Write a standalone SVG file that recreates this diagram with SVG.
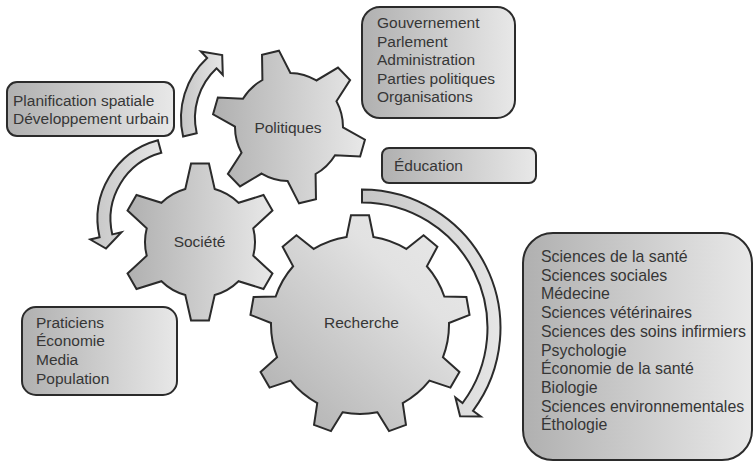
<svg xmlns="http://www.w3.org/2000/svg" width="754" height="467" viewBox="0 0 754 467">
<defs>
<linearGradient id="gH" x1="0" y1="0" x2="1" y2="0">
<stop offset="0" stop-color="#b0b0b0"/>
<stop offset="1" stop-color="#e8e8e8"/>
</linearGradient>
<linearGradient id="gD" x1="0" y1="1" x2="1" y2="0">
<stop offset="0" stop-color="#ababab"/>
<stop offset="0.7" stop-color="#e2e2e2"/>
<stop offset="1" stop-color="#e9e9e9"/>
</linearGradient>
<linearGradient id="gA" x1="0" y1="0" x2="1" y2="0">
<stop offset="0" stop-color="#c6c6c6"/>
<stop offset="1" stop-color="#e6e6e6"/>
</linearGradient>
</defs>
<style>
.box{fill:url(#gH);stroke:#2b2b2b;stroke-width:2}
.gear{fill:url(#gH);stroke:#2b2b2b;stroke-width:2;stroke-linejoin:miter}
.arr{fill:url(#gA);stroke:#2b2b2b;stroke-width:2;stroke-linejoin:miter}
text{font-family:"Liberation Sans",Arial,sans-serif;font-size:15.5px;fill:#363636}
.c{text-anchor:middle}
.s{font-size:15.9px}
</style>
<rect width="754" height="467" fill="#ffffff"/>

<g id="connectors">
<path class="arr" d="M 183.1,136.5 A 82 82 0 0 1 207.1,58.0 L 200.9,51.4 L 222.2,55.1 L 222.8,74.8 L 216.6,68.3 A 68 68 0 0 0 196.7,133.3 Z"/>
<path class="arr" d="M 157.9,140.3 A 81.5 81.5 0 0 0 99.6,237.3 L 90.3,239.5 L 106,248.5 L 121.5,232.3 L 112.3,234.4 A 68.5 68.5 0 0 1 161.3,152.8 Z"/>
<path class="arr" d="M 362,189.5 A 138.5 138.5 0 0 1 473.0,410.8 L 480.7,416.4 L 460.1,416.3 L 455.4,397.6 L 462.6,403.0 A 125.5 125.5 0 0 0 362,202.5 Z"/>
</g>

<g id="politiques">
<path class="gear" d="M 262.41,80.00 L 262.03,54.87 L 278.95,50.66 L 290.41,73.02 A 54 54 0 0 1 316.41,80.47 L 337.98,67.59 L 350.09,80.12 L 336.46,101.23 A 54 54 0 0 1 343.00,127.47 L 364.94,139.71 L 360.14,156.47 L 335.04,155.22 A 54 54 0 0 1 315.59,174.00 L 315.97,199.13 L 299.05,203.34 L 287.59,180.98 A 54 54 0 0 1 261.59,173.53 L 240.02,186.41 L 227.91,173.88 L 241.54,152.77 A 54 54 0 0 1 235.00,126.53 L 213.06,114.29 L 217.86,97.53 L 242.96,98.78 A 54 54 0 0 1 262.41,80.00 Z"/>
<text class="c" x="288" y="133">Politiques</text>
</g>

<g id="societe">
<path class="gear" d="M 185.30,189.00 L 191.06,163.51 L 208.94,163.51 L 214.70,189.00 A 55 55 0 0 1 238.55,202.77 L 263.51,195.01 L 272.45,210.50 L 253.25,228.23 A 55 55 0 0 1 253.25,255.77 L 272.45,273.50 L 263.51,288.99 L 238.55,281.23 A 55 55 0 0 1 214.70,295.00 L 208.94,320.49 L 191.06,320.49 L 185.30,295.00 A 55 55 0 0 1 161.45,281.23 L 136.49,288.99 L 127.55,273.50 L 146.75,255.77 A 55 55 0 0 1 146.75,228.23 L 127.55,210.50 L 136.49,195.01 L 161.45,202.77 A 55 55 0 0 1 185.30,189.00 Z"/>
<text class="c" x="199.5" y="247">Société</text>
</g>

<g id="recherche">
<path class="gear" style="fill:url(#gD)" d="M 346.54,237.02 L 350.99,215.37 L 369.01,215.37 L 373.46,237.02 A 89 89 0 0 1 406.24,248.95 L 423.57,235.23 L 437.37,246.81 L 426.87,266.26 A 89 89 0 0 1 444.30,296.47 L 466.40,297.08 L 469.53,314.84 L 448.97,322.98 A 89 89 0 0 1 442.92,357.33 L 459.45,372.01 L 450.43,387.62 L 429.46,380.64 A 89 89 0 0 1 402.74,403.06 L 405.97,424.94 L 389.03,431.11 L 377.44,412.27 A 89 89 0 0 1 342.56,412.27 L 330.97,431.11 L 314.03,424.94 L 317.26,403.06 A 89 89 0 0 1 290.54,380.64 L 269.57,387.62 L 260.55,372.01 L 277.08,357.33 A 89 89 0 0 1 271.03,322.98 L 250.47,314.84 L 253.60,297.08 L 275.70,296.47 A 89 89 0 0 1 293.13,266.26 L 282.63,246.81 L 296.43,235.23 L 313.76,248.95 A 89 89 0 0 1 346.54,237.02 Z"/>
<text class="c" x="361.5" y="328">Recherche</text>
</g>

<g id="box-planification">
<rect class="box" x="7" y="82" width="167" height="54" rx="10"/>
<text x="13" y="106">Planification spatiale</text>
<text x="13" y="124">Développement urbain</text>
</g>

<g id="box-gouvernement">
<rect class="box" x="362" y="7" width="153" height="111" rx="18"/>
<text x="377" y="28">Gouvernement</text>
<text x="377" y="46.5">Parlement</text>
<text x="377" y="65">Administration</text>
<text x="377" y="83.5">Parties politiques</text>
<text x="377" y="102">Organisations</text>
</g>

<g id="box-education">
<rect class="box" x="382" y="148" width="154" height="35" rx="7"/>
<text x="394" y="171">Éducation</text>
</g>

<g id="box-praticiens">
<rect class="box" x="22" y="307" width="155" height="88" rx="14"/>
<text x="36" y="327.5">Praticiens</text>
<text x="36" y="346">Économie</text>
<text x="36" y="364.8">Media</text>
<text x="36" y="383.5">Population</text>
</g>

<g id="box-sciences">
<rect class="box" x="523" y="233" width="229" height="227" rx="30"/>
<text class="s" x="541" y="262">Sciences de la santé</text>
<text class="s" x="541" y="280.7">Sciences sociales</text>
<text class="s" x="541" y="299.4">Médecine</text>
<text class="s" x="541" y="318.1">Sciences vétérinaires</text>
<text class="s" x="541" y="336.8">Sciences des soins infirmiers</text>
<text class="s" x="541" y="355.5">Psychologie</text>
<text class="s" x="541" y="374.2">Économie de la santé</text>
<text class="s" x="541" y="392.9">Biologie</text>
<text class="s" x="541" y="411.6">Sciences environnementales</text>
<text class="s" x="541" y="430.3">Éthologie</text>
</g>
</svg>
